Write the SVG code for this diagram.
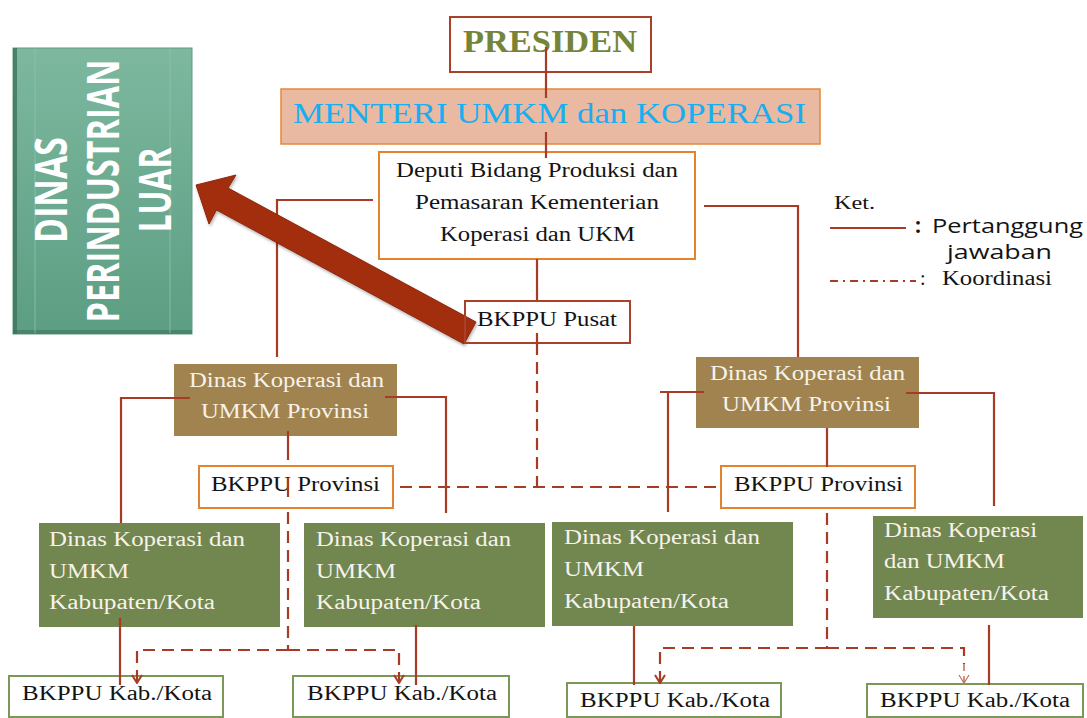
<svg xmlns="http://www.w3.org/2000/svg" width="1087" height="718" viewBox="0 0 1087 718">
<defs>
<linearGradient id="gGreen" x1="0" y1="0" x2="0" y2="1">
<stop offset="0" stop-color="#7db89f"/>
<stop offset="1" stop-color="#5c9e83"/>
</linearGradient>
<marker id="vArrowDown" viewBox="0 0 12 10" refX="6" refY="9" markerWidth="12" markerHeight="10" markerUnits="userSpaceOnUse" orient="0">
<path d="M1,1 L6,9 L11,1" fill="none" stroke="#a83b25" stroke-width="2"/>
</marker>
<marker id="vArrowThin" viewBox="0 0 12 10" refX="6" refY="9" markerWidth="12" markerHeight="10" markerUnits="userSpaceOnUse" orient="0">
<path d="M1,1 L6,9 L11,1" fill="none" stroke="#c0705a" stroke-width="1.2"/>
</marker>
<filter id="soft" x="-10%" y="-10%" width="120%" height="130%">
<feDropShadow dx="1" dy="2" stdDeviation="1.5" flood-color="#000" flood-opacity="0.3"/>
</filter>
</defs>
<style>
.serif{font-family:"Liberation Serif","Times New Roman",serif;}
.sans{font-family:"Open Sans","Liberation Sans",sans-serif;}
.dark{fill:#141414;}
.white{fill:#f7f3ea;}
.brown{fill:#a0834f;}
.olive{fill:#72864f;}
.boxW{fill:#ffffff;}
.sOrange{stroke:#e3832e;stroke-width:2;}
.sRed{stroke:#a8402a;stroke-width:2;}
.sGreen{stroke:#7a9858;stroke-width:2;}
.line{fill:none;stroke:#a83b25;stroke-width:2.2;}
.dash{fill:none;stroke:#a83b25;stroke-width:2.2;stroke-dasharray:12 7;}
.dashThin{fill:none;stroke:#b8583f;stroke-width:1.3;stroke-dasharray:7 5;}
.t20{font-size:20px;}
.t19{font-size:19px;}
</style>
<rect width="1087" height="718" fill="#ffffff"/>

<g id="dinas-perindustrian-luar">
<rect x="13" y="48" width="179" height="286" fill="url(#gGreen)" stroke="#5f9c82" stroke-width="1"/>
<rect x="13" y="48" width="4" height="286" fill="#3f735b" opacity="0.8"/>
<rect x="13" y="330" width="179" height="4" fill="#3f735b" opacity="0.6"/>
<line x1="35" y1="49" x2="35" y2="333" stroke="#8fc3ab" stroke-width="1" opacity="0.8"/>
<line x1="170" y1="49" x2="170" y2="333" stroke="#8fc3ab" stroke-width="1" opacity="0.8"/>
<g class="sans" font-weight="700" font-size="45" fill="#ffffff" text-anchor="middle">
<text transform="translate(67,190) rotate(-90) scale(0.73,1)" textLength="145" lengthAdjust="spacingAndGlyphs">DINAS</text>
<text transform="translate(119,191) rotate(-90) scale(0.73,1)" textLength="360" lengthAdjust="spacingAndGlyphs">PERINDUSTRIAN</text>
<text transform="translate(171,190) rotate(-90) scale(0.73,1)" textLength="116" lengthAdjust="spacingAndGlyphs">LUAR</text>
</g>
</g>

<g id="presiden">
<rect x="450" y="17" width="201" height="55" class="boxW sRed"/>
<text x="463" y="52" class="serif" font-size="32" font-weight="700" fill="#76843a" textLength="174" lengthAdjust="spacingAndGlyphs">PRESIDEN</text>
</g>

<g id="menteri">
<rect x="281" y="89" width="539" height="55" fill="#eab9a2" stroke="#e3883a" stroke-width="1.5"/>
<text x="293" y="123" class="serif" font-size="30" fill="#18aef0" textLength="513" lengthAdjust="spacingAndGlyphs">MENTERI UMKM dan KOPERASI</text>
</g>

<g id="deputi">
<rect x="379" y="152" width="316" height="107" class="boxW sOrange"/>
<text x="396" y="177" class="serif t20 dark" textLength="282" lengthAdjust="spacingAndGlyphs">Deputi Bidang Produksi dan</text>
<text x="415" y="209" class="serif t20 dark" textLength="244" lengthAdjust="spacingAndGlyphs">Pemasaran Kementerian</text>
<text x="440" y="241" class="serif t20 dark" textLength="195" lengthAdjust="spacingAndGlyphs">Koperasi dan UKM</text>
</g>

<g id="legend">
<text x="834" y="209" class="serif t19 dark" textLength="41" lengthAdjust="spacingAndGlyphs">Ket.</text>
<line x1="830" y1="228" x2="906" y2="228" stroke="#a83b25" stroke-width="2.2"/>
<text x="915" y="233" class="sans" font-size="21" font-weight="700" fill="#141414">:</text>
<text x="932" y="233" class="sans dark" font-size="20" textLength="151" lengthAdjust="spacingAndGlyphs">Pertanggung</text>
<text x="947" y="259" class="sans dark" font-size="20" textLength="105" lengthAdjust="spacingAndGlyphs">jawaban</text>
<line x1="830" y1="281" x2="916" y2="281" stroke="#a83b25" stroke-width="2.2" stroke-dasharray="8 5 2 5"/>
<text x="920" y="285" class="serif dark" font-size="20">:</text>
<text x="942" y="285" class="serif dark" font-size="20" textLength="110" lengthAdjust="spacingAndGlyphs">Koordinasi</text>
</g>

<g id="dinas-prov-kiri">
<rect x="174" y="364" width="223" height="72" class="brown"/>
<text x="189" y="387" class="serif t20 white" textLength="195" lengthAdjust="spacingAndGlyphs">Dinas Koperasi dan</text>
<text x="201" y="418" class="serif t20 white" textLength="168" lengthAdjust="spacingAndGlyphs">UMKM Provinsi</text>
</g>

<g id="dinas-prov-kanan">
<rect x="696" y="357" width="223" height="71" class="brown"/>
<text x="710" y="380" class="serif t20 white" textLength="195" lengthAdjust="spacingAndGlyphs">Dinas Koperasi dan</text>
<text x="722" y="411" class="serif t20 white" textLength="169" lengthAdjust="spacingAndGlyphs">UMKM Provinsi</text>
</g>

<g id="bkppu-prov-kiri">
<rect x="199" y="466" width="194" height="42" class="boxW sOrange"/>
<text x="211" y="491" class="serif t20 dark" textLength="169" lengthAdjust="spacingAndGlyphs">BKPPU Provinsi</text>
</g>

<g id="bkppu-prov-kanan">
<rect x="721" y="466" width="194" height="42" class="boxW sOrange"/>
<text x="734" y="491" class="serif t20 dark" textLength="169" lengthAdjust="spacingAndGlyphs">BKPPU Provinsi</text>
</g>

<g id="dinas-kab-1">
<rect x="39" y="523" width="241" height="104" class="olive"/>
<text x="49" y="546" class="serif t20 white" textLength="196" lengthAdjust="spacingAndGlyphs">Dinas Koperasi dan</text>
<text x="49" y="578" class="serif t20 white" textLength="80" lengthAdjust="spacingAndGlyphs">UMKM</text>
<text x="49" y="609" class="serif t20 white" textLength="166" lengthAdjust="spacingAndGlyphs">Kabupaten/Kota</text>
</g>

<g id="dinas-kab-2">
<rect x="304" y="523" width="241" height="104" class="olive"/>
<text x="316" y="546" class="serif t20 white" textLength="195" lengthAdjust="spacingAndGlyphs">Dinas Koperasi dan</text>
<text x="316" y="578" class="serif t20 white" textLength="80" lengthAdjust="spacingAndGlyphs">UMKM</text>
<text x="316" y="609" class="serif t20 white" textLength="165" lengthAdjust="spacingAndGlyphs">Kabupaten/Kota</text>
</g>

<g id="dinas-kab-3">
<rect x="552" y="522" width="241" height="104" class="olive"/>
<text x="564" y="544" class="serif t20 white" textLength="196" lengthAdjust="spacingAndGlyphs">Dinas Koperasi dan</text>
<text x="564" y="576" class="serif t20 white" textLength="80" lengthAdjust="spacingAndGlyphs">UMKM</text>
<text x="564" y="608" class="serif t20 white" textLength="165" lengthAdjust="spacingAndGlyphs">Kabupaten/Kota</text>
</g>

<g id="dinas-kab-4">
<rect x="873" y="516" width="210" height="102" class="olive"/>
<text x="884" y="537" class="serif t20 white" textLength="153" lengthAdjust="spacingAndGlyphs">Dinas Koperasi</text>
<text x="884" y="568" class="serif t20 white" textLength="121" lengthAdjust="spacingAndGlyphs">dan UMKM</text>
<text x="884" y="600" class="serif t20 white" textLength="165" lengthAdjust="spacingAndGlyphs">Kabupaten/Kota</text>
</g>

<g id="bkppu-kab-1">
<rect x="9" y="676" width="214" height="41" class="boxW sGreen"/>
<text x="22" y="700" class="serif t20 dark" textLength="190" lengthAdjust="spacingAndGlyphs">BKPPU Kab./Kota</text>
</g>
<g id="bkppu-kab-2">
<rect x="293" y="676" width="216" height="41" class="boxW sGreen"/>
<text x="307" y="700" class="serif t20 dark" textLength="190" lengthAdjust="spacingAndGlyphs">BKPPU Kab./Kota</text>
</g>
<g id="bkppu-kab-3">
<rect x="567" y="683" width="214" height="34" class="boxW sGreen"/>
<text x="580" y="707" class="serif t20 dark" textLength="190" lengthAdjust="spacingAndGlyphs">BKPPU Kab./Kota</text>
</g>
<g id="bkppu-kab-4">
<rect x="867" y="684" width="216" height="33" class="boxW sGreen"/>
<text x="880" y="707" class="serif t20 dark" textLength="190" lengthAdjust="spacingAndGlyphs">BKPPU Kab./Kota</text>
</g>

<g id="connectors">
<path class="line" d="M546,47 V98"/>
<path class="line" d="M546,132 V158"/>
<path class="line" d="M537,259 V302 M537,333 V343"/>
<path class="line" d="M373,200 H277 V357"/>
<path class="line" d="M704,206 H798 V357"/>
<path class="line" d="M190,398 H121 V523"/>
<path class="line" d="M385,397 H446 V513"/>
<path class="line" d="M288,431 V460 M288,478 V497"/>
<path class="line" d="M704,392 H660 M668,392 V512"/>
<path class="line" d="M906,393 H994 V506"/>
<path class="line" d="M827,428 V467"/>
<path class="line" d="M120,618 V685"/>
<path class="line" d="M416,625 V685"/>
<path class="line" d="M634,626 V685"/>
<path class="line" d="M989,625 V685"/>
<path class="dash" d="M537,343 V487"/>
<path class="dash" d="M400,487 H721"/>
<path class="dash" d="M288,512 V650"/>
<path class="dash" d="M288,650 H137 V683" marker-end="url(#vArrowDown)"/>
<path class="dash" d="M288,650 H399 V683" marker-end="url(#vArrowDown)"/>
<path class="dash" d="M827,513 V648"/>
<path class="dash" d="M827,648 H660 V683" marker-end="url(#vArrowDown)"/>
<path class="dash" d="M827,648 H964 V664"/>
<path class="dashThin" d="M964,664 V683" marker-end="url(#vArrowThin)"/>
</g>

<g id="big-arrow">
<polygon points="196,185 236,175 228,188 476,322 464,344 216.5,210 209,224" fill="#a22e10" stroke="#8c2810" stroke-width="1" filter="url(#soft)"/>
</g>

<g id="bkppu-pusat">
<rect x="465" y="301" width="165" height="42" fill="none" class="sRed"/>
<text x="477" y="326" class="serif t20 dark" textLength="140" lengthAdjust="spacingAndGlyphs">BKPPU Pusat</text>
</g>
</svg>
